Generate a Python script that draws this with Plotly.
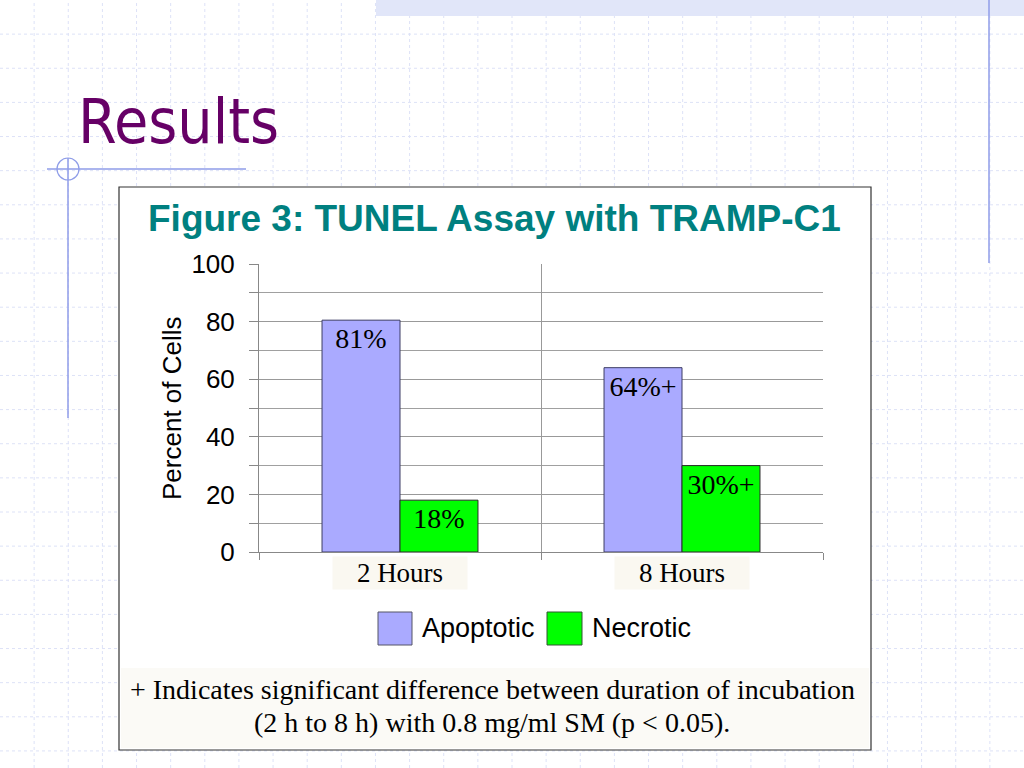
import plotly.graph_objects as go

# values
hours = ["2 Hours", "8 Hours"]
apoptotic = [80.5, 64]
necrotic = [18, 30]
apoptotic_labels = ["81%", "64%+"]
necrotic_labels = ["18%", "30%+"]
y_ticks = [0, 20, 40, 60, 80, 100]
footnote = ["+ Indicates significant difference between duration of incubation",
            "(2 h to 8 h) with 0.8 mg/ml SM (p < 0.05)."]

W, H = 1024, 768


def px(x):
    return x / W


def py(y):
    return 1 - y / H


serif = "Liberation Serif, Times New Roman, serif"
sans = "Liberation Sans, Arial, sans-serif"
deco = "#8f9de8"

fig = go.Figure()
fig.add_trace(go.Bar(
    x=hours, y=apoptotic, name="Apoptotic",
    marker=dict(color="#aaaaff", line=dict(color="#3c3c64", width=1)),
    text=apoptotic_labels, textposition="inside", insidetextanchor="end",
    textfont=dict(family=serif, size=28, color="black"),
    constraintext="none",
))
fig.add_trace(go.Bar(
    x=hours, y=necrotic, name="Necrotic",
    marker=dict(color="#00ff00", line=dict(color="#2a2a2a", width=1)),
    text=necrotic_labels, textposition="inside", insidetextanchor="end",
    textfont=dict(family=serif, size=28, color="black"),
    constraintext="none",
))

shapes = []
# slide background grid
step = W / 30
k = 1
while k * step < W:
    x = px(k * step)
    shapes.append(dict(type="line", xref="paper", yref="paper", x0=x, x1=x, y0=0, y1=1,
                       line=dict(color="#dde2f7", width=1, dash="dot"), layer="below"))
    k += 1
k = 1
while k * step < H:
    y = py(k * step)
    shapes.append(dict(type="line", xref="paper", yref="paper", x0=0, x1=1, y0=y, y1=y,
                       line=dict(color="#dde2f7", width=1, dash="dot"), layer="below"))
    k += 1
# top band and decoration lines
shapes.append(dict(type="rect", xref="paper", yref="paper", x0=px(376), x1=1, y0=py(16), y1=1,
                   fillcolor="#e1e6f9", line=dict(width=0), layer="below"))
shapes.append(dict(type="line", xref="paper", yref="paper", x0=px(989), x1=px(989), y0=py(0), y1=py(263),
                   line=dict(color=deco, width=1.5), layer="below"))
shapes.append(dict(type="line", xref="paper", yref="paper", x0=px(68), x1=px(68), y0=py(158), y1=py(418),
                   line=dict(color=deco, width=1.5), layer="below"))
shapes.append(dict(type="line", xref="paper", yref="paper", x0=px(47), x1=px(246), y0=py(169), y1=py(169),
                   line=dict(color=deco, width=1.5), layer="below"))
shapes.append(dict(type="circle", xref="paper", yref="paper", x0=px(57), x1=px(79), y0=py(180), y1=py(158),
                   line=dict(color=deco, width=1.2), layer="below"))
# chart box
shapes.append(dict(type="rect", xref="paper", yref="paper", x0=px(119), x1=px(871), y0=py(750), y1=py(187),
                   fillcolor="white", line=dict(color="#333333", width=1.2), layer="below"))
# footnote background
shapes.append(dict(type="rect", xref="paper", yref="paper", x0=px(121), x1=px(869), y0=py(748), y1=py(668),
                   fillcolor="#fbfaf6", line=dict(width=0), layer="below"))
# legend swatches
shapes.append(dict(type="rect", xref="paper", yref="paper", x0=px(378), x1=px(412), y0=py(645), y1=py(612),
                   fillcolor="#aaaaff", line=dict(color="#555566", width=1)))
shapes.append(dict(type="rect", xref="paper", yref="paper", x0=px(547), x1=px(582), y0=py(645), y1=py(612),
                   fillcolor="#00ff00", line=dict(color="#335533", width=1)))

annotations = [
    dict(text="Results", x=px(76), y=py(122), xref="paper", yref="paper", xanchor="left", yanchor="middle",
         showarrow=False, font=dict(family="DejaVu Sans Condensed, DejaVu Sans", size=62, color="#660066")),
    dict(text="<b>Figure 3: TUNEL Assay with TRAMP-C1</b>", x=px(494), y=py(218), xref="paper", yref="paper",
         xanchor="center", yanchor="middle", showarrow=False,
         font=dict(family=sans, size=37, color="#008080")),
    dict(text="Percent of Cells", x=px(172), y=py(408), xref="paper", yref="paper", xanchor="center",
         yanchor="middle", textangle=-90, showarrow=False,
         font=dict(family=sans, size=26, color="black")),
    dict(text="Apoptotic", x=px(420), y=py(628), xref="paper", yref="paper", xanchor="left", yanchor="middle",
         showarrow=False, font=dict(family=sans, size=27, color="black")),
    dict(text="Necrotic", x=px(590), y=py(628), xref="paper", yref="paper", xanchor="left", yanchor="middle",
         showarrow=False, font=dict(family=sans, size=27, color="black")),
]
for line, yc in zip(footnote, [689, 722]):
    annotations.append(dict(text=line, x=px(492), y=py(yc), xref="paper", yref="paper", xanchor="center",
                            yanchor="middle", showarrow=False,
                            font=dict(family=serif, size=28, color="black")))
for h in hours:
    annotations.append(dict(text=h, x=h, y=py(573), xref="x", yref="paper", xanchor="center",
                            yanchor="middle", showarrow=False, bgcolor="#faf8f1",
                            width=132, height=30, font=dict(family=serif, size=27, color="black")))

fig.update_layout(
    width=W, height=H,
    margin=dict(l=0, r=0, t=0, b=0, pad=0),
    paper_bgcolor="white", plot_bgcolor="white",
    barmode="group", bargap=0.447, bargroupgap=0,
    showlegend=False,
    shapes=shapes,
    annotations=annotations,
    xaxis=dict(domain=[px(259), px(823)], range=[-0.5, 1.5], showticklabels=False, automargin=False,
               tickson="boundaries", ticks="outside", ticklen=7, tickcolor="#888888",
               showgrid=True, gridcolor="#999999", gridwidth=1,
               showline=True, linecolor="#888888", fixedrange=True),
    yaxis=dict(domain=[py(552), py(264)], range=[0, 100], tickvals=y_ticks, automargin=False,
               ticks="outside", ticklen=9, tickcolor="#888888", ticklabelstandoff=9,
               minor=dict(dtick=10, ticks="outside", ticklen=9, tickcolor="#888888",
                          showgrid=True, gridcolor="#a0a0a0"),
               showgrid=True, gridcolor="#999999", gridwidth=1,
               showline=True, linecolor="#888888", zeroline=False, fixedrange=True,
               tickfont=dict(family=sans, size=26, color="black")),
)

fig.write_html("out.html", config={"displayModeBar": False},
               post_script="document.body.style.margin='0';")
